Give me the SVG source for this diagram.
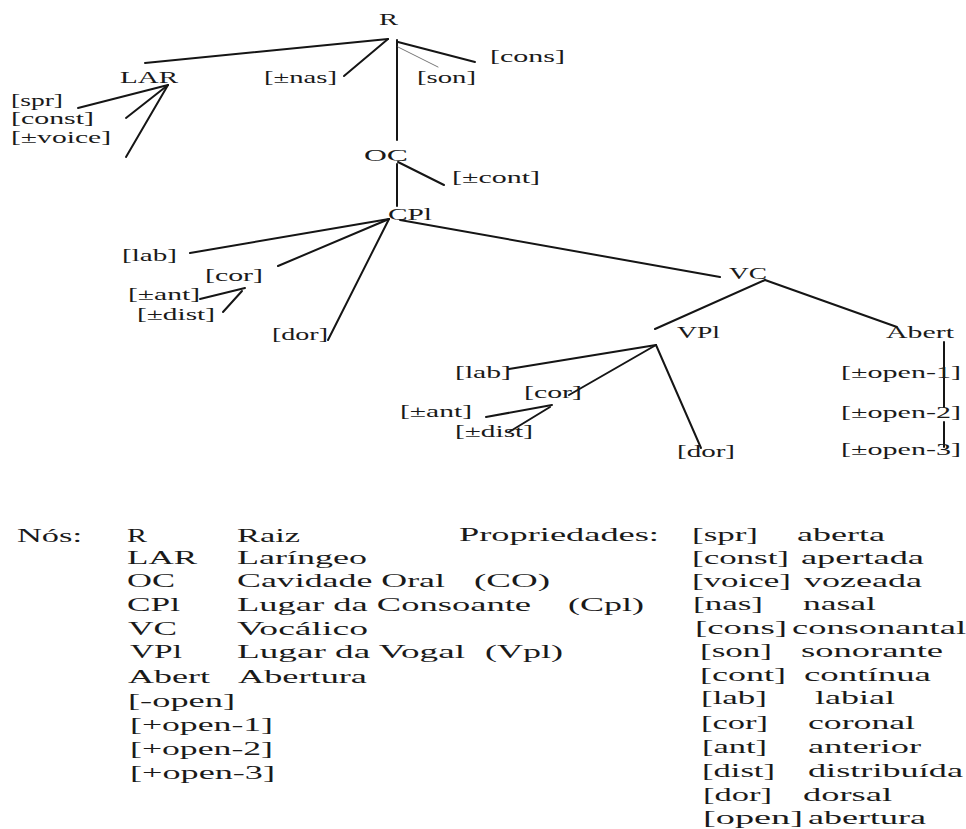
<svg xmlns="http://www.w3.org/2000/svg" width="966" height="829" viewBox="0 0 966 829">
<style>
text{font-family:"Liberation Serif","Times New Roman",serif;fill:#1a1a1a}
.n{font-size:17px}
.g{font-size:19.5px}
.c line{stroke:#151515;stroke-width:2;stroke-linecap:round}
.c line.thin{stroke:#777;stroke-width:1}
</style>
<rect width="966" height="829" fill="#ffffff"/>
<g class="c" id="connectors">
<line x1="388" y1="39" x2="145" y2="63"/>
<line x1="388" y1="39" x2="344" y2="76"/>
<line x1="397" y1="40" x2="397" y2="140"/>
<line class="thin" x1="398" y1="47" x2="438" y2="67"/>
<line x1="398" y1="42" x2="475" y2="62"/>
<line x1="168" y1="85" x2="78" y2="108"/>
<line x1="168" y1="85" x2="126" y2="118"/>
<line x1="168" y1="85" x2="126" y2="157"/>
<line x1="398" y1="162" x2="444" y2="185"/>
<line x1="397" y1="164" x2="397" y2="206"/>
<line x1="389" y1="219" x2="190" y2="253"/>
<line x1="389" y1="219" x2="278" y2="266"/>
<line x1="389" y1="219" x2="328" y2="340"/>
<line x1="400" y1="220" x2="720" y2="277"/>
<line x1="200" y1="299" x2="245" y2="288"/>
<line x1="223" y1="312" x2="242" y2="291"/>
<line x1="765" y1="280" x2="655" y2="329"/>
<line x1="765" y1="280" x2="897" y2="327"/>
<line x1="656" y1="345" x2="509" y2="369"/>
<line x1="656" y1="345" x2="569" y2="395"/>
<line x1="656" y1="345" x2="701" y2="448"/>
<line x1="486" y1="417" x2="552" y2="405"/>
<line x1="509" y1="432" x2="550" y2="407"/>
<line x1="944" y1="342" x2="944" y2="407"/>
<line x1="944" y1="422" x2="944" y2="447"/>
</g>
<g id="node-R"><text class="n" x="379" y="25" textLength="19" lengthAdjust="spacingAndGlyphs">R</text></g>
<g id="node-cons"><text class="n" x="490" y="62" textLength="75" lengthAdjust="spacingAndGlyphs">[cons]</text></g>
<g id="node-LAR"><text class="n" x="120" y="83" textLength="58" lengthAdjust="spacingAndGlyphs">LAR</text></g>
<g id="node-nas"><text class="n" x="264" y="83" textLength="73" lengthAdjust="spacingAndGlyphs">[±nas]</text></g>
<g id="node-son"><text class="n" x="417" y="83" textLength="59" lengthAdjust="spacingAndGlyphs">[son]</text></g>
<g id="node-spr"><text class="n" x="11" y="106" textLength="52" lengthAdjust="spacingAndGlyphs">[spr]</text></g>
<g id="node-const"><text class="n" x="11" y="124" textLength="83" lengthAdjust="spacingAndGlyphs">[const]</text></g>
<g id="node-voice"><text class="n" x="11" y="143" textLength="100" lengthAdjust="spacingAndGlyphs">[±voice]</text></g>
<g id="node-OC"><text class="n" x="364" y="161" textLength="44" lengthAdjust="spacingAndGlyphs">OC</text></g>
<g id="node-cont"><text class="n" x="452" y="183" textLength="88" lengthAdjust="spacingAndGlyphs">[±cont]</text></g>
<g id="node-CPl"><text class="n" x="388" y="220" textLength="44" lengthAdjust="spacingAndGlyphs">CPl</text></g>
<g id="node-lab1"><text class="n" x="122" y="261" textLength="55" lengthAdjust="spacingAndGlyphs">[lab]</text></g>
<g id="node-cor1"><text class="n" x="205" y="281" textLength="58" lengthAdjust="spacingAndGlyphs">[cor]</text></g>
<g id="node-ant1"><text class="n" x="128" y="300" textLength="72" lengthAdjust="spacingAndGlyphs">[±ant]</text></g>
<g id="node-dist1"><text class="n" x="137" y="320" textLength="78" lengthAdjust="spacingAndGlyphs">[±dist]</text></g>
<g id="node-dor1"><text class="n" x="272" y="340" textLength="56" lengthAdjust="spacingAndGlyphs">[dor]</text></g>
<g id="node-VC"><text class="n" x="729" y="279" textLength="38" lengthAdjust="spacingAndGlyphs">VC</text></g>
<g id="node-VPl"><text class="n" x="677" y="338" textLength="43" lengthAdjust="spacingAndGlyphs">VPl</text></g>
<g id="node-Abert"><text class="n" x="886" y="338" textLength="68" lengthAdjust="spacingAndGlyphs">Abert</text></g>
<g id="node-lab2"><text class="n" x="455" y="378" textLength="56" lengthAdjust="spacingAndGlyphs">[lab]</text></g>
<g id="node-cor2"><text class="n" x="524" y="398" textLength="58" lengthAdjust="spacingAndGlyphs">[cor]</text></g>
<g id="node-ant2"><text class="n" x="400" y="417" textLength="72" lengthAdjust="spacingAndGlyphs">[±ant]</text></g>
<g id="node-dist2"><text class="n" x="455" y="437" textLength="78" lengthAdjust="spacingAndGlyphs">[±dist]</text></g>
<g id="node-dor2"><text class="n" x="677" y="457" textLength="58" lengthAdjust="spacingAndGlyphs">[dor]</text></g>
<g id="node-open1"><text class="n" x="841" y="378" textLength="120" lengthAdjust="spacingAndGlyphs">[±open-1]</text></g>
<g id="node-open2"><text class="n" x="841" y="418" textLength="120" lengthAdjust="spacingAndGlyphs">[±open-2]</text></g>
<g id="node-open3"><text class="n" x="841" y="455" textLength="120" lengthAdjust="spacingAndGlyphs">[±open-3]</text></g>
<g id="legend-nodes">
<text class="g" x="17" y="542" textLength="65" lengthAdjust="spacingAndGlyphs">Nós:</text>
<text class="g" x="127" y="542" textLength="20" lengthAdjust="spacingAndGlyphs">R</text>
<text class="g" x="237" y="542" textLength="63" lengthAdjust="spacingAndGlyphs">Raiz</text>
<text class="g" x="127" y="564" textLength="70" lengthAdjust="spacingAndGlyphs">LAR</text>
<text class="g" x="237" y="564" textLength="130" lengthAdjust="spacingAndGlyphs">Laríngeo</text>
<text class="g" x="127" y="587" textLength="48" lengthAdjust="spacingAndGlyphs">OC</text>
<text class="g" x="237" y="587" textLength="208" lengthAdjust="spacingAndGlyphs">Cavidade Oral</text>
<text class="g" x="474" y="587" textLength="76" lengthAdjust="spacingAndGlyphs">(CO)</text>
<text class="g" x="127" y="611" textLength="53" lengthAdjust="spacingAndGlyphs">CPl</text>
<text class="g" x="237" y="611" textLength="294" lengthAdjust="spacingAndGlyphs">Lugar da Consoante</text>
<text class="g" x="568" y="611" textLength="76" lengthAdjust="spacingAndGlyphs">(Cpl)</text>
<text class="g" x="128" y="635" textLength="49" lengthAdjust="spacingAndGlyphs">VC</text>
<text class="g" x="237" y="635" textLength="131" lengthAdjust="spacingAndGlyphs">Vocálico</text>
<text class="g" x="130" y="658" textLength="52" lengthAdjust="spacingAndGlyphs">VPl</text>
<text class="g" x="237" y="658" textLength="228" lengthAdjust="spacingAndGlyphs">Lugar da Vogal</text>
<text class="g" x="485" y="658" textLength="78" lengthAdjust="spacingAndGlyphs">(Vpl)</text>
<text class="g" x="128" y="683" textLength="82" lengthAdjust="spacingAndGlyphs">Abert</text>
<text class="g" x="238" y="683" textLength="129" lengthAdjust="spacingAndGlyphs">Abertura</text>
<text class="g" x="128" y="707" textLength="107" lengthAdjust="spacingAndGlyphs">[-open]</text>
<text class="g" x="130" y="731" textLength="143" lengthAdjust="spacingAndGlyphs">[+open-1]</text>
<text class="g" x="130" y="755" textLength="143" lengthAdjust="spacingAndGlyphs">[+open-2]</text>
<text class="g" x="130" y="779" textLength="145" lengthAdjust="spacingAndGlyphs">[+open-3]</text>
</g>
<g id="legend-props">
<text class="g" x="459" y="541" textLength="200" lengthAdjust="spacingAndGlyphs">Propriedades:</text>
<text class="g" x="692" y="541" textLength="66" lengthAdjust="spacingAndGlyphs">[spr]</text>
<text class="g" x="797" y="541" textLength="88" lengthAdjust="spacingAndGlyphs">aberta</text>
<text class="g" x="692" y="564" textLength="97" lengthAdjust="spacingAndGlyphs">[const]</text>
<text class="g" x="801" y="564" textLength="123" lengthAdjust="spacingAndGlyphs">apertada</text>
<text class="g" x="692" y="587" textLength="99" lengthAdjust="spacingAndGlyphs">[voice]</text>
<text class="g" x="804" y="587" textLength="118" lengthAdjust="spacingAndGlyphs">vozeada</text>
<text class="g" x="693" y="610" textLength="70" lengthAdjust="spacingAndGlyphs">[nas]</text>
<text class="g" x="803" y="610" textLength="73" lengthAdjust="spacingAndGlyphs">nasal</text>
<text class="g" x="695" y="634" textLength="92" lengthAdjust="spacingAndGlyphs">[cons]</text>
<text class="g" x="792" y="634" textLength="174" lengthAdjust="spacingAndGlyphs">consonantal</text>
<text class="g" x="700" y="657" textLength="72" lengthAdjust="spacingAndGlyphs">[son]</text>
<text class="g" x="801" y="657" textLength="142" lengthAdjust="spacingAndGlyphs">sonorante</text>
<text class="g" x="700" y="681" textLength="86" lengthAdjust="spacingAndGlyphs">[cont]</text>
<text class="g" x="804" y="681" textLength="127" lengthAdjust="spacingAndGlyphs">contínua</text>
<text class="g" x="701" y="704" textLength="66" lengthAdjust="spacingAndGlyphs">[lab]</text>
<text class="g" x="815" y="704" textLength="80" lengthAdjust="spacingAndGlyphs">labial</text>
<text class="g" x="701" y="729" textLength="67" lengthAdjust="spacingAndGlyphs">[cor]</text>
<text class="g" x="808" y="729" textLength="107" lengthAdjust="spacingAndGlyphs">coronal</text>
<text class="g" x="702" y="753" textLength="65" lengthAdjust="spacingAndGlyphs">[ant]</text>
<text class="g" x="808" y="753" textLength="113" lengthAdjust="spacingAndGlyphs">anterior</text>
<text class="g" x="702" y="777" textLength="73" lengthAdjust="spacingAndGlyphs">[dist]</text>
<text class="g" x="808" y="777" textLength="155" lengthAdjust="spacingAndGlyphs">distribuída</text>
<text class="g" x="703" y="801" textLength="69" lengthAdjust="spacingAndGlyphs">[dor]</text>
<text class="g" x="803" y="801" textLength="89" lengthAdjust="spacingAndGlyphs">dorsal</text>
<text class="g" x="703" y="824" textLength="100" lengthAdjust="spacingAndGlyphs">[open]</text>
<text class="g" x="808" y="824" textLength="118" lengthAdjust="spacingAndGlyphs">abertura</text>
</g>
</svg>
